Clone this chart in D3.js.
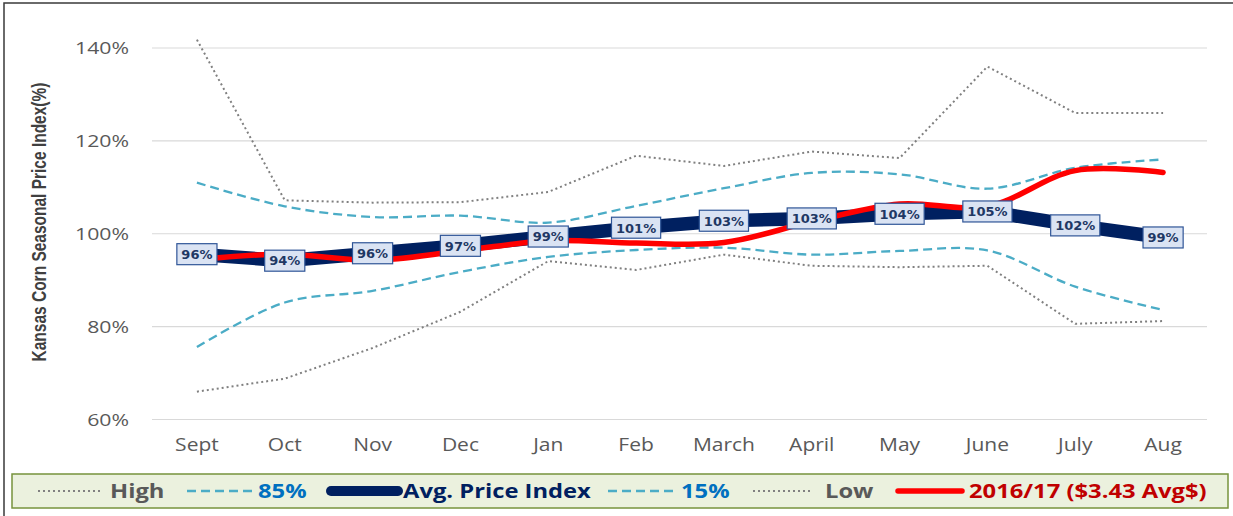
<!DOCTYPE html>
<html>
<head>
<meta charset="utf-8">
<script src="https://cdn.jsdelivr.net/npm/d3@7"></script>
<style>
  html, body { margin: 0; padding: 0; background: #fff; }
  svg { display: block; }
</style>
</head>
<body>
<div id="chart"></div>
<script>
// months of the marketing year
const months = ["Sept", "Oct", "Nov", "Dec", "Jan", "Feb", "March", "April", "May", "June", "July", "Aug"];

// seasonal price index series (%)
const high  = [141.8, 107.2, 106.7, 106.8, 109.0, 116.8, 114.6, 117.7, 116.3, 136.0, 126.0, 126.0];
const pct85 = [111.0, 105.9, 103.6, 103.9, 102.4, 106.0, 109.8, 113.1, 112.8, 109.7, 114.2, 116.0];
const avg   = [95.6, 94.2, 95.8, 97.4, 99.4, 101.3, 102.8, 103.3, 104.3, 104.8, 101.8, 99.2];
const pct15 = [75.6, 85.2, 87.7, 91.8, 95.0, 96.5, 97.0, 95.5, 96.3, 96.4, 88.6, 83.6];
const low   = [66.0, 68.8, 75.4, 83.2, 94.1, 92.2, 95.5, 93.1, 92.8, 93.1, 80.6, 81.2];
const y2017 = [94.4, 95.6, 94.3, 96.3, 98.5, 98.0, 98.1, 102.6, 106.4, 105.9, 113.6, 113.2];

// data label text for the average line
const avgLabels = ["96%", "94%", "96%", "97%", "99%", "101%", "103%", "103%", "104%", "105%", "102%", "99%"];

// y axis ticks
const yTicks = [60, 80, 100, 120, 140];

const W = 1233, H = 516;

const svg = d3.select("#chart").append("svg")
  .attr("width", W)
  .attr("height", H);

// outer frame (top and left edges visible)
svg.append("rect")
  .attr("x", 4).attr("y", 3)
  .attr("width", W + 10).attr("height", H + 10)
  .attr("fill", "#fff")
  .attr("stroke", "#3a3a3a")
  .attr("stroke-width", 1.5);

const x = d3.scalePoint().domain(months).range([153, 1207]).padding(0.5);
const y = d3.scaleLinear().domain([60, 140]).range([419.5, 48]);

// text with horizontal stretch (the source picture is stretched sideways)
function stext(g, tx, ty, str, anchor, sx) {
  return g.append("text")
    .attr("transform", `translate(${tx},${ty}) scale(${sx},1)`)
    .attr("text-anchor", anchor || "start")
    .text(str);
}

// gridlines
svg.append("g")
  .selectAll("line")
  .data(yTicks)
  .join("line")
  .attr("x1", 152).attr("x2", 1207)
  .attr("y1", d => y(d)).attr("y2", d => y(d))
  .attr("stroke", "#d9d9d9")
  .attr("stroke-width", 1.2);

// y tick labels
const yLab = svg.append("g")
  .attr("font-family", "'Open Sans', sans-serif")
  .attr("font-size", 17)
  .attr("fill", "#595959");
yTicks.forEach(t => stext(yLab, 129, y(t) + 6, t + "%", "end", 1.25));

// x labels
const xLab = svg.append("g")
  .attr("font-family", "'Open Sans', sans-serif")
  .attr("font-size", 17.5)
  .attr("fill", "#595959");
months.forEach(m => stext(xLab, x(m), 451, m, "middle", 1.2));

// y axis title
svg.append("text")
  .attr("transform", `translate(46,222) rotate(-90) scale(1,1.25)`)
  .attr("text-anchor", "middle")
  .attr("font-family", "'Liberation Sans Narrow', 'Arial Narrow', 'Liberation Sans', sans-serif")
  .attr("font-weight", "bold")
  .attr("font-size", 15.5)
  .attr("fill", "#404040")
  .text("Kansas Corn Seasonal Price Index(%)");

const straight = d3.line().x((d, i) => x(months[i])).y(d => y(d));
const smooth = d3.line().x((d, i) => x(months[i])).y(d => y(d)).curve(d3.curveCatmullRom.alpha(0.5));

const dotted = { stroke: "#808080", width: 2, dash: "2,3" };
const dashed = { stroke: "#4bacc6", width: 2.3, dash: "9,5" };

function drawLine(data, gen, st) {
  svg.append("path")
    .datum(data)
    .attr("d", gen)
    .attr("fill", "none")
    .attr("stroke", st.stroke)
    .attr("stroke-width", st.width)
    .attr("stroke-dasharray", st.dash || null)
    .attr("stroke-linecap", st.cap || "butt")
    .attr("stroke-linejoin", "round");
}

drawLine(high, straight, dotted);
drawLine(low, straight, dotted);
drawLine(pct85, smooth, dashed);
drawLine(pct15, smooth, dashed);
drawLine(avg, straight, { stroke: "#002060", width: 13.5 });
drawLine(y2017, smooth, { stroke: "#ff0000", width: 5.5, cap: "round" });

// data labels on the average line
const lab = svg.append("g")
  .selectAll("g")
  .data(avg)
  .join("g")
  .attr("transform", (d, i) => `translate(${x(months[i])},${y(d)})`);

lab.append("text")
  .attr("text-anchor", "middle")
  .attr("dy", "0.37em")
  .attr("font-family", "'DejaVu Sans', sans-serif")
  .attr("font-weight", "bold")
  .attr("font-size", 13)
  .attr("fill", "#1f3864")
  .text((d, i) => avgLabels[i]);

lab.each(function() {
  const g = d3.select(this);
  const w = g.select("text").node().getComputedTextLength() + 9;
  g.insert("rect", "text")
    .attr("x", -w / 2).attr("y", -10.5)
    .attr("width", w).attr("height", 21)
    .attr("fill", "#dae3f3")
    .attr("stroke", "#2f5597")
    .attr("stroke-width", 1.2);
});

// legend
const legend = svg.append("g");
legend.append("rect")
  .attr("x", 12).attr("y", 474)
  .attr("width", 1216).attr("height", 34)
  .attr("fill", "#ebf1de")
  .attr("stroke", "#77933c")
  .attr("stroke-width", 1.5);

const legendItems = [
  { label: "High", st: dotted, color: "#595959", x0: 38, x1: 101, tx: 110 },
  { label: "85%", st: dashed, color: "#0070c0", x0: 187, x1: 254, tx: 258 },
  { label: "Avg. Price Index", st: { stroke: "#002060", width: 10, cap: "round" }, color: "#002060", x0: 331, x1: 398, tx: 403 },
  { label: "15%", st: dashed, color: "#0070c0", x0: 608, x1: 675, tx: 681 },
  { label: "Low", st: dotted, color: "#595959", x0: 753, x1: 811, tx: 825 },
  { label: "2016/17 ($3.43 Avg$)", st: { stroke: "#ff0000", width: 5.5, cap: "round" }, color: "#c00000", x0: 898, x1: 962, tx: 969 }
];
const ly = 491;
legendItems.forEach(it => {
  legend.append("line")
    .attr("x1", it.x0).attr("x2", it.x1)
    .attr("y1", ly).attr("y2", ly)
    .attr("stroke", it.st.stroke)
    .attr("stroke-width", it.st.width)
    .attr("stroke-dasharray", it.st.dash || null)
    .attr("stroke-linecap", it.st.cap || "butt");
  stext(legend, it.tx, ly + 7, it.label, "start", 1.25)
    .attr("font-family", "'Open Sans', sans-serif")
    .attr("font-weight", "bold")
    .attr("font-size", 19)
    .attr("fill", it.color);
});
</script>
</body>
</html>
